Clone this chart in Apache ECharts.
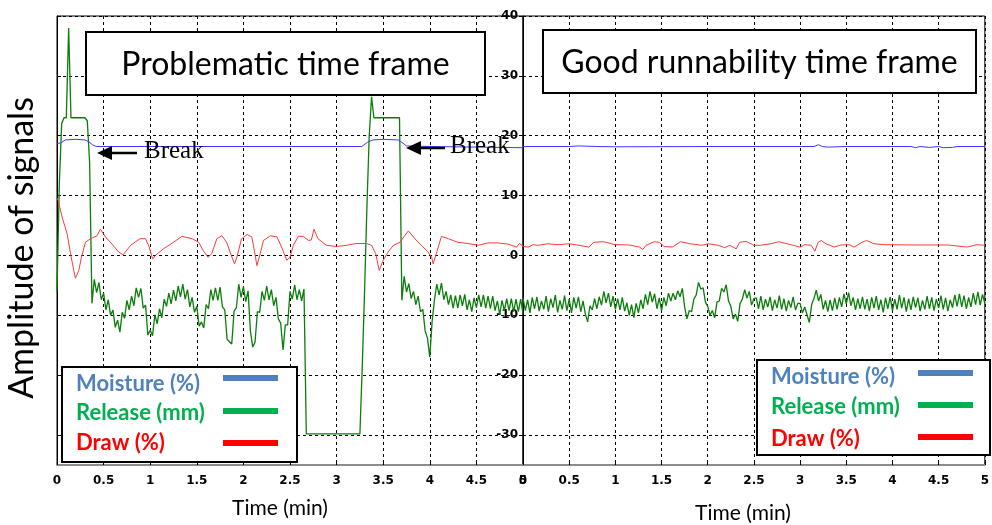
<!DOCTYPE html>
<html>
<head>
<meta charset="utf-8">
<title>Signals - problematic vs good runnability</title>
<script src="https://cdn.jsdelivr.net/npm/echarts@6/dist/echarts.min.js"></script>
<style>
    html, body { margin: 0; padding: 0; background: #fff; }
    #main { width: 992px; height: 525px; }
</style>
</head>
<body>
<div id="main"></div>
<script>
(function () {
    'use strict';

    // release signal is sampled every STEP minutes
    var STEP = 0.025;

    var yTicks = [-30, -20, -10, 0, 10, 20, 30, 40];

    /* problematic time frame */
    var leftRelease = [
        -6, 12, 22, 23, 23, 38, 23, 23, 23, 23,
        23, 23, 23, 22.5, 15.5, -8, -4.0, -6.2, -4.5, -7.4,
        -6.3, -9.1, -7.4, -10.0, -9.1, -12.0, -10.8, -12.8, -9.5, -10.5,
        -7.5, -9.1, -6.8, -8.4, -5.4, -7.0, -5.5, -8.8, -8.3, -13.3,
        -12.5, -13.4, -9.9, -11.4, -8.9, -10.4, -7.3, -8.5, -6.3, -8.1,
        -5.8, -7.6, -5.1, -6.9, -4.8, -7.3, -5.7, -8.6, -7.0, -9.5,
        -8.5, -11.8, -11.1, -12.1, -8.2, -8.9, -5.7, -7.5, -5.4, -7.5,
        -5.3, -8.6, -9.1, -14.0, -14.4, -14.8, -9.3, -8.7, -4.8, -7.0,
        -5.2, -7.7, -5.9, -12.6, -15.3, -14.5, -9.4, -9.5, -6.0, -7.5,
        -5.1, -7.4, -5.7, -8.4, -7.0, -10.6, -11.3, -15.8, -11.6, -11.6,
        -6.0, -7.3, -4.9, -7.4, -5.7, -7.6, -5.6, -29.8, -29.8, -29.8,
        -29.8, -29.8, -29.8, -29.8, -29.8, -29.8, -29.8, -29.8, -29.8, -29.8,
        -29.8, -29.8, -29.8, -29.8, -29.8, -29.8, -29.8, -29.8, -29.8, -29.8,
        -29.8, -18.7, -6, 8, 20, 26.5, 23, 23, 23, 23,
        23, 23, 23, 23, 23, 23, 23, 23, -7.5, -3.5,
        -6.1, -4.7, -7.2, -6.0, -8.2, -6.8, -9.4, -9.0, -12.6, -13.8,
        -17.0, -11.0, -7.4, -4.8, -6.6, -4.6, -7.4, -6.0, -8.2, -6.6,
        -8.8, -6.7, -8.8, -6.6, -8.4, -6.5, -9.1, -7.4, -9.4, -7.1,
        -8.7, -6.6, -8.6, -6.6, -8.8, -6.8, -8.9, -6.8, -9.2, -7.6,
        -9.9, -7.5, -9.2, -7.2, -9.2, -7.2, -9.4, -7.3, -9.4, -7.3,
        -9.7
    ];

    var leftDraw = [
        [0, 9.6], [0.012, 9.2], [0.055, 6.4], [0.109, 3.6], [0.145, 0.3], [0.18, -2.5],
        [0.198, -3.8], [0.234, -2.5], [0.262, -0.3], [0.305, 2.2], [0.36, 2.8], [0.43, 3.3],
        [0.466, 4.4], [0.52, 3.1], [0.59, 1.9], [0.66, 0.6], [0.71, 0.1], [0.79, 1.7],
        [0.89, 2.8], [0.95, 2.8], [0.99, 1.4], [1.026, -0.6], [1.055, 0], [1.14, 1.1],
        [1.25, 2.2], [1.34, 3.2], [1.45, 2.8], [1.52, 2.2], [1.57, 0.8], [1.62, -0.3],
        [1.66, 0.3], [1.715, 2.8], [1.77, 3.3], [1.82, 2.2], [1.87, 0], [1.905, -1.4],
        [1.93, -0.3], [1.98, 2.8], [2.04, 3.5], [2.09, 3.1], [2.12, 0.6], [2.145, -1.7],
        [2.18, 0.3], [2.215, 2.5], [2.29, 3.3], [2.36, 3.1], [2.41, 1.4], [2.465, -0.8],
        [2.5, -0.3], [2.536, 1.7], [2.59, 3.2], [2.64, 3.2], [2.7, 2.5], [2.73, 2.6],
        [2.757, 4.4], [2.8, 2.8], [2.89, 1.7], [3.0, 1.5], [3.11, 1.7], [3.21, 2.0],
        [3.32, 2.0], [3.375, 1.7], [3.42, 0.3], [3.457, -2.5], [3.5, -0.8], [3.554, 0.6],
        [3.61, 1.7], [3.68, 2.2], [3.73, 3.3], [3.77, 4.1], [3.84, 2.8], [3.91, 1.7],
        [3.98, 0.6], [4.02, -0.3], [4.036, -1.4], [4.07, 0.3], [4.125, 3.2], [4.2, 2.8],
        [4.3, 2.2], [4.41, 2.0], [4.52, 1.7], [4.62, 2.1], [4.73, 2.1], [4.84, 1.9],
        [4.93, 1.4], [4.96, 2.0], [5.0, 1.6]
    ];

    var leftMoisture = [
        [0, 18.7], [0.04, 18.8], [0.09, 19.3], [0.2, 19.4], [0.3, 19.3], [0.34, 19.0],
        [0.38, 18.5], [0.42, 18.2], [1.0, 18.2], [2.0, 18.2], [3.0, 18.2], [3.27, 18.2],
        [3.33, 18.9], [3.39, 19.3], [3.5, 19.4], [3.66, 19.3], [3.7, 18.9], [3.75, 18.3],
        [4.0, 18.2], [4.5, 18.1], [5.0, 18.0]
    ];

    /* good runnability time frame */
    var rightRelease = [
        -7.1, -9.2, -7.4, -9.6, -7.0, -8.9, -6.9, -9.3, -7.6, -9.0,
        -6.8, -9.4, -7.2, -8.7, -6.6, -9.5, -7.5, -9.0, -6.7, -9.2,
        -7.3, -9.6, -7.0, -8.8, -6.9, -9.4, -7.6, -9.8, -11.1, -8.4,
        -9.1, -7.2, -8.9, -6.9, -8.3, -6.0, -7.9, -6.3, -8.6, -6.8,
        -9.0, -7.2, -9.1, -7.0, -9.3, -7.9, -10.0, -8.2, -10.4, -8.0,
        -9.6, -7.4, -8.9, -6.5, -8.2, -6.0, -7.8, -6.4, -8.9, -7.1,
        -9.2, -7.0, -8.4, -6.3, -7.6, -6.3, -7.4, -5.9, -6.9, -5.5,
        -8.6, -10.6, -9.2, -9.4, -7.3, -6.6, -4.5, -5.6, -5.4, -7.8,
        -8.5, -10.0, -9.2, -10.4, -7.8, -7.6, -5.5, -6.1, -4.9, -7.6,
        -8.5, -10.6, -9.8, -11.0, -8.0, -7.3, -5.7, -7.1, -6.0, -8.3,
        -7.2, -7.1, -8.9, -6.8, -9.1, -7.3, -8.6, -6.9, -9.2, -7.4,
        -8.8, -6.7, -9.0, -7.2, -9.3, -7.5, -8.7, -6.9, -9.1, -8.0,
        -8.0, -9.6, -8.6, -9.9, -11.2, -8.2, -7.2, -5.8, -7.6, -6.5,
        -9.0, -7.5, -9.4, -7.4, -9.2, -7.1, -9.0, -7.0, -8.6, -6.4,
        -8.1, -6.2, -8.4, -7.0, -9.1, -7.2, -8.9, -6.9, -9.0, -7.3,
        -9.3, -7.0, -8.8, -6.8, -9.1, -7.4, -9.5, -7.1, -8.9, -6.9,
        -9.2, -7.3, -9.0, -6.6, -8.8, -7.0, -9.4, -7.2, -9.1, -6.9,
        -8.7, -7.1, -9.3, -7.5, -9.0, -6.8, -8.9, -7.0, -9.2, -7.3,
        -8.8, -6.7, -9.0, -7.1, -9.3, -7.4, -8.7, -6.6, -8.5, -6.4,
        -8.6, -6.7, -8.9, -7.0, -8.6, -6.3, -8.2, -6.1, -8.3, -6.5,
        -8.0
    ];

    var rightDraw = [
        [0, 1.5], [0.057, 1.4], [0.11, 1.8], [0.163, 1.7], [0.27, 1.95], [0.376, 1.8],
        [0.5, 1.95], [0.606, 1.7], [0.713, 1.4], [0.766, 2.2], [0.872, 2.3], [0.96, 1.95],
        [0.996, 1.8], [1.156, 1.75], [1.262, 1.4], [1.298, 1.0], [1.333, 1.7], [1.422, 2.3],
        [1.475, 2.2], [1.528, 1.5], [1.617, 1.4], [1.706, 2.3], [1.812, 1.95], [1.936, 1.7],
        [2.007, 1.95], [2.113, 1.7], [2.184, 1.3], [2.238, 1.7], [2.309, 1.1], [2.344, 2.2],
        [2.415, 2.35], [2.5, 1.7], [2.57, 1.7], [2.68, 1.95], [2.77, 2.3], [2.86, 1.95],
        [3.0, 1.4], [3.05, 1.8], [3.12, 1.7], [3.16, 0.7], [3.195, 2.2], [3.23, 2.5],
        [3.28, 1.95], [3.37, 1.4], [3.44, 1.75], [3.53, 1.8], [3.585, 1.4], [3.67, 2.2],
        [3.72, 2.5], [3.8, 1.95], [3.92, 1.8], [4.24, 1.75], [4.6, 1.75], [4.81, 1.4],
        [4.915, 1.8], [5.0, 1.7]
    ];

    var rightMoisture = [
        [0, 18.2], [0.5, 18.2], [0.6, 18.3], [0.62, 18.15], [0.8, 18.2], [1.0, 18.15],
        [2.0, 18.2], [3.15, 18.2], [3.2, 18.5], [3.24, 18.2], [3.3, 18.1], [3.5, 18.2],
        [4.2, 18.2], [4.25, 18.0], [4.3, 18.2], [4.4, 18.05], [4.5, 18.2], [4.55, 18.0],
        [4.65, 18.05], [4.7, 18.2], [5.0, 18.2]
    ];

    var legendNames = ['Moisture (%)', 'Release (mm)', 'Draw (%)'];
    var legendColors = ['#4f81bd', '#00b050', '#ff0000'];

    var lineColors = {moisture: '#3a3aff', release: '#0a7d0a', draw: '#ff3b3b'};

    function sampled(values) {
        return values.map(function (v, i) {
            return [+(i * STEP).toFixed(3), v];
        });
    }

    var tickFont = {
        fontFamily: 'DejaVu Sans',
        fontWeight: 'bold',
        fontSize: 12,
        color: '#000'
    };
    var dash = {color: '#000', type: [3, 3], width: 1};
    var calibri = 'Lato, sans-serif';
    var TOP = 100;

    function xAxis(g) {
        return {
            type: 'value',
            gridIndex: g,
            min: 0,
            max: 5,
            interval: 0.5,
            axisLine: {onZero: false, lineStyle: {color: '#8c8c8c', width: 2}},
            axisTick: {inside: true, length: 4, lineStyle: {color: '#000'}},
            axisLabel: Object.assign({showMinLabel: true, showMaxLabel: true, margin: 10}, tickFont),
            splitLine: {lineStyle: dash}
        };
    }

    function yAxis(g) {
        return {
            type: 'value',
            gridIndex: g,
            min: -35,
            max: 40,
            axisLine: {show: true, onZero: false, lineStyle: {color: '#000', width: 1}},
            axisTick: {show: true, inside: g === 0, length: 4, customValues: yTicks, lineStyle: {color: '#000'}},
            axisLabel: Object.assign({show: g === 1, customValues: yTicks, margin: 5}, tickFont),
            splitLine: {lineStyle: dash}
        };
    }

    function line(name, color, g, data, z) {
        return {
            name: name,
            type: 'line',
            xAxisIndex: g,
            yAxisIndex: g,
            data: data,
            showSymbol: false,
            symbol: 'none',
            z: z,
            lineStyle: {color: color, width: name === 'Release (mm)' ? 1.3 : 1},
            itemStyle: {color: color}
        };
    }

    function titleBox(x, y, w, h, text) {
        return [{
            type: 'rect', z: TOP,
            shape: {x: x, y: y, width: w, height: h},
            style: {fill: '#fff', stroke: '#000', lineWidth: 2}
        }, {
            type: 'text', z: TOP + 1,
            x: x + w / 2,
            y: y + h / 2 + 1,
            style: {text: text, align: 'center', verticalAlign: 'middle', font: '32px ' + calibri, fill: '#000'}
        }];
    }

    function breakMark(tipX, y, endX, textX) {
        return [{
            type: 'line', z: TOP,
            shape: {x1: tipX + 12, y1: y, x2: endX, y2: y},
            style: {stroke: '#000', lineWidth: 2.5}
        }, {
            type: 'polygon', z: TOP,
            shape: {points: [[tipX, y], [tipX + 15, y - 7], [tipX + 15, y + 7]]},
            style: {fill: '#000'}
        }, {
            type: 'text', z: TOP,
            x: textX,
            y: y - 2,
            style: {text: 'Break', verticalAlign: 'middle', font: '25px "Liberation Serif"', fill: '#000'}
        }];
    }

    function legendBox(x, y, w, h, textX, textYs, lineX, lineYs) {
        var items = [{
            type: 'rect', z: TOP,
            shape: {x: x, y: y, width: w, height: h},
            style: {fill: '#fff', stroke: '#000', lineWidth: 2}
        }];
        legendNames.forEach(function (name, i) {
            items.push({
                type: 'text', z: TOP + 1,
                x: textX,
                y: textYs[i],
                style: {text: name, verticalAlign: 'middle', font: 'bold 22px ' + calibri, fill: legendColors[i]}
            });
            items.push({
                type: 'line', z: TOP + 1,
                shape: {x1: lineX, y1: lineYs[i], x2: lineX + 55, y2: lineYs[i]},
                style: {stroke: legendColors[i], lineWidth: 6}
            });
        });
        return items;
    }

    var chart = echarts.init(document.getElementById('main'), null, {renderer: 'canvas'});

    var graphic = [].concat(
        titleBox(86, 32, 399, 63, 'Problematic time frame'),
        titleBox(543, 30, 433, 63, 'Good runnability time frame'),
        breakMark(97, 153, 137, 144),
        breakMark(406, 148, 445, 450),
        legendBox(62, 367, 235, 95, 76, [384, 413, 443], 223, [378, 411, 443]),
        legendBox(757, 360, 233, 95, 771, [377, 407, 439], 918, [373, 405, 437]),
        [{
            type: 'text', x: 280, y: 508, z: TOP,
            style: {text: 'Time (min)', align: 'center', verticalAlign: 'middle', font: '21px ' + calibri, fill: '#000'}
        }, {
            type: 'text', x: 743, y: 513, z: TOP,
            style: {text: 'Time (min)', align: 'center', verticalAlign: 'middle', font: '21px ' + calibri, fill: '#000'}
        }, {
            type: 'text', x: 22, y: 248, z: TOP, rotation: Math.PI / 2,
            style: {text: 'Amplitude of signals', align: 'center', verticalAlign: 'middle', font: '34px ' + calibri, fill: '#000'}
        }]
    );

    var option = {
        animation: false,
        backgroundColor: '#fff',
        grid: [
            {left: 57, top: 16, width: 466, height: 449, show: true, borderColor: '#000', borderWidth: 1},
            {left: 523, top: 16, width: 470, height: 449, show: true, borderColor: '#000', borderWidth: 1}
        ],
        xAxis: [xAxis(0), xAxis(1)],
        yAxis: [yAxis(0), yAxis(1)],
        series: [
            line('Release (mm)', lineColors.release, 0, sampled(leftRelease), 2),
            line('Draw (%)', lineColors.draw, 0, leftDraw, 3),
            line('Moisture (%)', lineColors.moisture, 0, leftMoisture, 4),
            line('Release (mm)', lineColors.release, 1, sampled(rightRelease), 2),
            line('Draw (%)', lineColors.draw, 1, rightDraw, 3),
            line('Moisture (%)', lineColors.moisture, 1, rightMoisture, 4)
        ],
        graphic: graphic
    };

    chart.setOption(option);
})();
</script>
</body>
</html>
